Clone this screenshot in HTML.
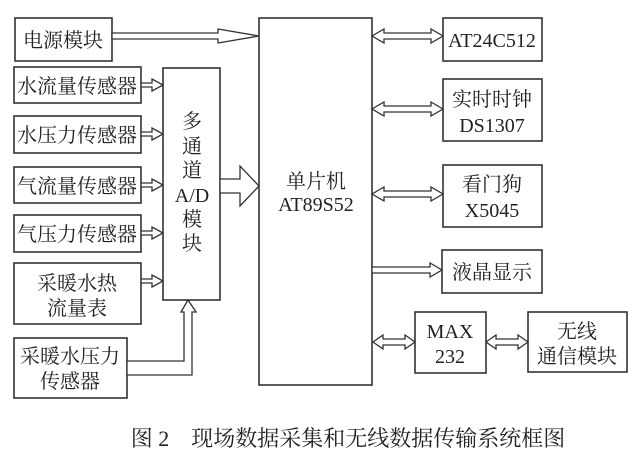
<!DOCTYPE html>
<html><head><meta charset="utf-8"><style>
body{margin:0;background:#fff;}
svg{display:block}
text{font-family:"Liberation Serif","Noto Serif CJK SC","Noto Sans CJK SC",serif;fill:#222;font-size:20px;text-anchor:middle}
rect{fill:none;stroke:#333;stroke-width:1.6}
polygon,polyline{fill:#fff;stroke:#333;stroke-width:1.3}
</style></head><body>
<svg width="640" height="458" viewBox="0 0 640 458">
<rect x="15" y="18" width="97" height="43"/>
<rect x="14" y="67" width="127" height="36"/>
<rect x="14" y="116" width="127" height="37"/>
<rect x="14" y="167" width="127" height="36"/>
<rect x="14" y="215" width="127" height="37"/>
<rect x="14" y="263" width="127" height="61"/>
<rect x="14" y="338" width="113" height="60"/>
<rect x="163" y="68" width="57" height="232"/>
<rect x="259" y="18" width="113" height="367"/>
<rect x="443" y="18" width="99" height="43"/>
<rect x="443" y="79" width="99" height="62"/>
<rect x="443" y="165" width="99" height="62"/>
<rect x="442" y="250" width="100" height="43"/>
<rect x="415" y="312" width="71" height="61"/>
<rect x="528" y="312" width="99" height="60"/>
<text x="63" y="47">电源模块</text>
<text x="77" y="93">水流量传感器</text>
<text x="77" y="142">水压力传感器</text>
<text x="77" y="193">气流量传感器</text>
<text x="77" y="241">气压力传感器</text>
<text x="77" y="290">采暖水热</text>
<text x="77" y="315">流量表</text>
<text x="70" y="363">采暖水压力</text>
<text x="70" y="388">传感器</text>
<text x="192" y="128">多</text>
<text x="192" y="153">通</text>
<text x="192" y="177">道</text>
<text x="192" y="202">A/D</text>
<text x="192" y="226">模</text>
<text x="192" y="250">块</text>
<text x="316" y="188">单片机</text>
<text x="316" y="211">AT89S52</text>
<text x="492" y="47">AT24C512</text>
<text x="492" y="106">实时时钟</text>
<text x="492" y="132">DS1307</text>
<text x="492" y="191">看门狗</text>
<text x="492" y="217">X5045</text>
<text x="492" y="279">液晶显示</text>
<text x="450" y="338">MAX</text>
<text x="450" y="363">232</text>
<text x="577" y="338">无线</text>
<text x="577" y="363">通信模块</text>
<text x="348" y="446" style="font-size:22px">图 2　现场数据采集和无线数据传输系统框图</text>
<polygon points="112,33 218,33 218,29 259,36 218,43 218,39 112,39"/>
<polygon points="141,83 152,83 152,79 163,85 152,91 152,87 141,87"/>
<polygon points="141,132 152,132 152,128 163,134 152,140 152,136 141,136"/>
<polygon points="141,183 152,183 152,179 163,185 152,191 152,187 141,187"/>
<polygon points="141,231 152,231 152,227 163,233 152,239 152,235 141,235"/>
<polygon points="141,279 152,279 152,275 163,281 152,287 152,283 141,283"/>
<polygon points="220,179 240,179 240,166 259,186 240,206 240,193 220,193"/>
<polygon points="127,361 184,361 184,312 181,312 188,300 196,312 192,312 192,375 127,375"/>
<polygon points="372,267 430,267 430,263 442,270 430,277 430,273 372,273"/>
<polygon points="372,36 384,29 384,33 431,33 431,29 443,36 431,43 431,39 384,39 384,43"/>
<polygon points="372,109 384,102 384,106 431,106 431,102 443,109 431,116 431,112 384,112 384,116"/>
<polygon points="372,194 384,187 384,191 431,191 431,187 443,194 431,201 431,197 384,197 384,201"/>
<polygon points="373,342 383,335 383,339 405,339 405,335 415,342 405,349 405,345 383,345 383,349"/>
<polygon points="486,342 496,335 496,339 518,339 518,335 528,342 518,349 518,345 496,345 496,349"/>
</svg>
</body></html>
